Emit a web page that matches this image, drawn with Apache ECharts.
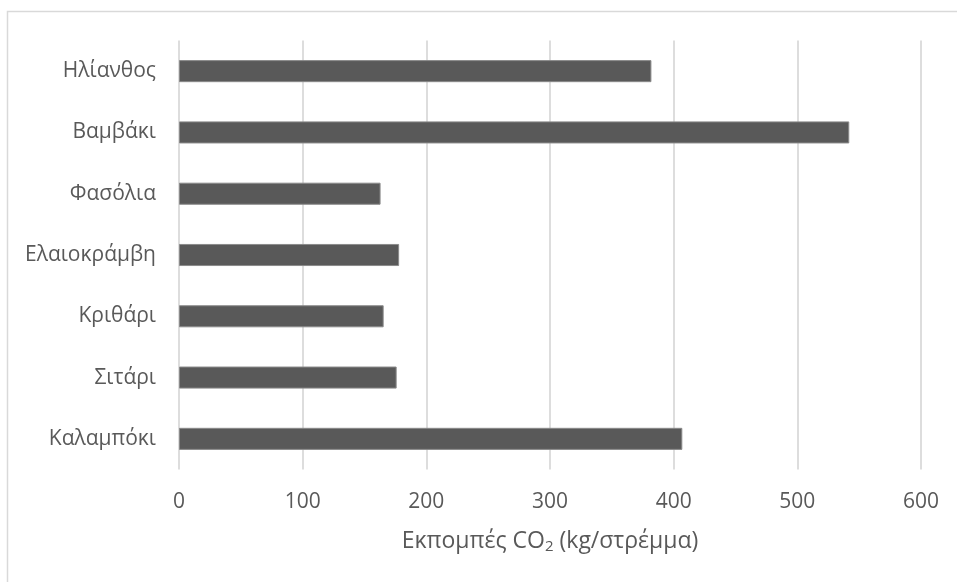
<!DOCTYPE html>
<html>
<head>
<meta charset="utf-8">
<style>
  html, body { margin: 0; padding: 0; background: #ffffff; }
  #chart { width: 957px; height: 582px; }
</style>
<script src="https://cdn.jsdelivr.net/npm/echarts@6/dist/echarts.min.js"></script>
</head>
<body>
<div id="chart"></div>
<script>
// Crops, listed bottom to top as they appear on the category axis
const crops = ['Καλαμπόκι', 'Σιτάρι', 'Κριθάρι', 'Ελαιοκράμβη', 'Φασόλια', 'Βαμβάκι', 'Ηλίανθος'];
// CO2 emissions per crop, kg per stremma
const emissions = [407, 176, 165.5, 178, 163, 542, 382];
// Value axis ticks
const axisMin = 0;
const axisMax = 600;
const axisStep = 100;

const FONT = '"Open Sans", "Noto Sans", sans-serif';
const TEXT = '#595959';
const GRID = '#d9d9d9';

const chart = echarts.init(document.getElementById('chart'), null, { renderer: 'canvas' });

chart.setOption({
  animation: false,
  backgroundColor: '#ffffff',
  graphic: [{
    type: 'rect',
    silent: true,
    shape: { x: 7.5, y: 11.5, width: 1000, height: 700 },
    style: { fill: 'none', stroke: GRID, lineWidth: 1.5 }
  }],
  grid: { left: 179, right: 36, top: 40.5, bottom: 112.5, containLabel: false },
  xAxis: {
    type: 'value',
    min: axisMin,
    max: axisMax,
    interval: axisStep,
    axisLine: { show: false },
    axisTick: { show: false },
    splitLine: { show: true, lineStyle: { color: GRID, width: 1.75 } },
    axisLabel: { color: TEXT, fontFamily: FONT, fontSize: 21, margin: 22 },
    name: '{t|Εκπομπές CO}{s|2}{t| (kg/στρέμμα)}',
    nameLocation: 'middle',
    nameGap: 58,
    nameTextStyle: {
      rich: {
        t: { color: TEXT, fontFamily: FONT, fontSize: 23 },
        s: { color: TEXT, fontFamily: FONT, fontSize: 15, padding: [12, 0, 0, 0] }
      }
    }
  },
  yAxis: {
    type: 'category',
    data: crops,
    axisLine: { show: false },
    axisTick: { show: false },
    splitLine: { show: false },
    axisLabel: { color: TEXT, fontFamily: FONT, fontSize: 21, margin: 23 }
  },
  series: [{
    type: 'bar',
    data: emissions,
    barCategoryGap: '64%',
    itemStyle: { color: '#595959', borderColor: '#8a8a8a', borderWidth: 1 }
  }]
});
</script>
</body>
</html>
